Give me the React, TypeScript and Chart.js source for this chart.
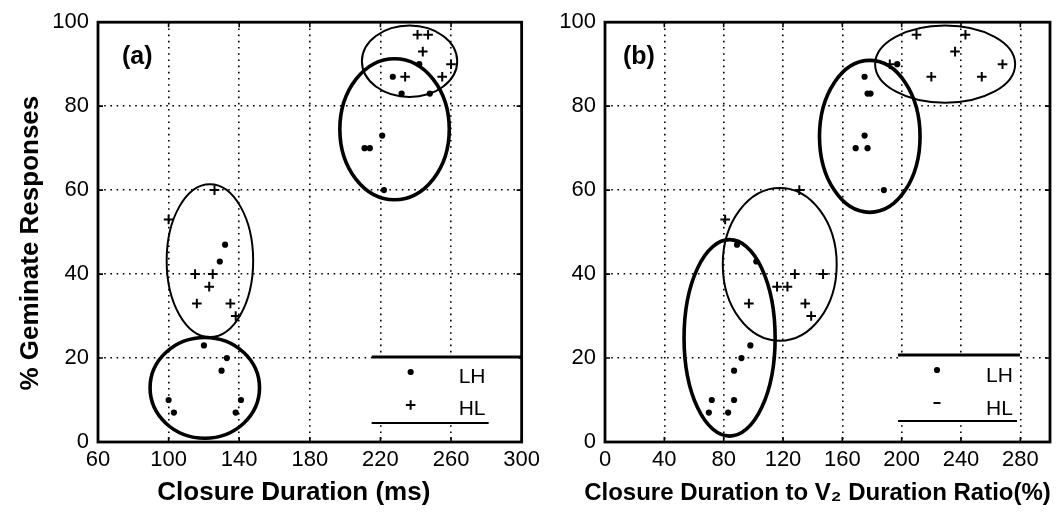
import React, { useEffect, useRef } from 'react';
import { Chart, registerables } from 'chart.js';

Chart.register(...registerables);

// ---------- Panel (a): Closure Duration (ms) ----------
const LH_A_X = [242, 227, 232, 248, 221, 211, 214, 222, 132, 129, 120, 133, 130, 100, 103, 141, 138];
const LH_A_Y = [90, 87, 83, 83, 73, 70, 70, 60, 47, 43, 23, 20, 17, 10, 7, 10, 7];
const HL_A_X = [241, 247, 244, 260, 234, 255, 126, 100, 115, 125, 123, 116, 135, 138];
const HL_A_Y = [97, 97, 93, 90, 87, 87, 60, 53, 40, 40, 37, 33, 33, 30];

// ---------- Panel (b): Closure Duration to V2 Duration Ratio (%) ----------
const LH_B_X = [197, 175, 177, 179, 175, 169, 177, 188, 89, 102, 98, 92, 87, 72, 87, 70, 83];
const LH_B_Y = [90, 87, 83, 83, 73, 70, 70, 60, 47, 43, 23, 20, 17, 10, 10, 7, 7];
const HL_B_X = [210, 243, 236, 268, 192, 220, 254, 131, 81, 128, 147, 116, 123, 97, 135, 139];
const HL_B_Y = [97, 97, 93, 90, 90, 87, 87, 60, 53, 40, 40, 37, 37, 33, 33, 30];

// ---------- Axes ----------
const X_RANGE_A = [60, 300];
const X_RANGE_B = [0, 300];
const Y_RANGE = [0, 100];
const X_TICKS_A = [60, 100, 140, 180, 220, 260, 300];
const X_TICKS_B = [0, 40, 80, 120, 160, 200, 240, 280];
const Y_TICKS = [0, 20, 40, 60, 80, 100];

// ---------- Cluster ellipses (data units) ----------
const ELL_A_CX = [236.5, 228, 123.4, 120.5];
const ELL_A_CY = [90.7, 74.5, 43.2, 12.9];
const ELL_A_RX = [27, 31, 24.5, 31];
const ELL_A_RY = [8.5, 16.8, 18.2, 12];
const ELL_A_KIND = ['thin', 'thick', 'thin', 'thick'];

const ELL_B_CX = [229.3, 178.5, 117.8, 84];
const ELL_B_CY = [90, 72.8, 42.3, 24.8];
const ELL_B_RX = [47.2, 33.9, 38.4, 30.7];
const ELL_B_RY = [9.2, 18.1, 18.2, 23.4];
const ELL_B_KIND = ['thin', 'thick', 'thin', 'thick'];

const SERIES = ['LH', 'HL'];
const Y_TITLE = '% Geminate Responses';
const X_TITLE_A = 'Closure Duration (ms)';
const X_TITLE_B = 'Closure Duration to V\u2082 Duration Ratio(%)';

const FONT = '"Liberation Sans", Arial, Helvetica, sans-serif';

type PanelCfg = {
  tag: string;
  lhX: number[]; lhY: number[]; hlX: number[]; hlY: number[];
  xRange: number[]; xTicks: number[];
  ell: { cx: number[]; cy: number[]; rx: number[]; ry: number[]; kind: string[] };
  yAxisWidth: number; padRight: number;
  xTitle: string; xTitleSize: number; xTitleShift: number;
  yTitle?: string;
  labelDx: number;
  legend: any;
};

function decor(cfg: PanelCfg) {
  return {
    id: 'decor_' + cfg.tag,
    beforeDatasetsDraw(chart: any) {
      const { ctx, scales, chartArea: a } = chart;
      const x = scales.x, y = scales.y;
      ctx.save();
      ctx.strokeStyle = '#000';
      // inward major ticks on all four sides
      ctx.lineWidth = 1.6;
      ctx.beginPath();
      cfg.xTicks.forEach((v) => {
        const px = x.getPixelForValue(v);
        ctx.moveTo(px, a.bottom); ctx.lineTo(px, a.bottom - 5);
        ctx.moveTo(px, a.top); ctx.lineTo(px, a.top + 5);
      });
      Y_TICKS.forEach((v) => {
        const py = y.getPixelForValue(v);
        ctx.moveTo(a.left, py); ctx.lineTo(a.left + 5, py);
        ctx.moveTo(a.right, py); ctx.lineTo(a.right - 5, py);
      });
      ctx.stroke();
      // ellipses
      cfg.ell.cx.forEach((cx, i) => {
        const cy = cfg.ell.cy[i];
        const px = x.getPixelForValue(cx);
        const py = y.getPixelForValue(cy);
        const rx = Math.abs(x.getPixelForValue(cx + cfg.ell.rx[i]) - px);
        const ry = Math.abs(y.getPixelForValue(cy + cfg.ell.ry[i]) - py);
        ctx.lineWidth = cfg.ell.kind[i] === 'thick' ? 3.6 : 2;
        ctx.beginPath();
        ctx.ellipse(px, py, rx, ry, 0, 0, Math.PI * 2);
        ctx.stroke();
      });
      ctx.restore();
    },
    afterDraw(chart: any) {
      const { ctx, chartArea: a } = chart;
      const L = cfg.legend;
      ctx.save();
      // legend box
      ctx.fillStyle = '#fff';
      ctx.fillRect(a.right - L.boxLeft, a.bottom - L.topY + 1, L.boxLeft - L.fillRight, L.topY - L.bottomY - 2);
      ctx.strokeStyle = '#000';
      ctx.lineWidth = 2.8;
      ctx.beginPath();
      ctx.moveTo(a.right - L.boxLeft, a.bottom - L.topY);
      ctx.lineTo(a.right - L.topLineRight, a.bottom - L.topY);
      ctx.stroke();
      ctx.lineWidth = 2;
      ctx.beginPath();
      ctx.moveTo(a.right - L.boxLeft, a.bottom - L.bottomY);
      ctx.lineTo(a.right - L.bottomLineRight, a.bottom - L.bottomY);
      ctx.stroke();
      // markers
      const mx = a.right - L.markerX;
      ctx.fillStyle = '#000';
      ctx.beginPath();
      ctx.arc(mx, a.bottom - L.lhY, 3.1, 0, Math.PI * 2);
      ctx.fill();
      ctx.lineWidth = 2;
      ctx.beginPath();
      if (L.hlMarker === 'cross') {
        ctx.moveTo(mx - 4.8, a.bottom - L.hlY);
        ctx.lineTo(mx + 4.8, a.bottom - L.hlY);
        ctx.moveTo(mx, a.bottom - L.hlY - 4.8);
        ctx.lineTo(mx, a.bottom - L.hlY + 4.8);
      } else {
        ctx.moveTo(mx - 3.5, a.bottom - L.hlY);
        ctx.lineTo(mx + 3.5, a.bottom - L.hlY);
      }
      ctx.stroke();
      // legend text
      ctx.font = `21px ${FONT}`;
      ctx.textAlign = 'left';
      ctx.textBaseline = 'alphabetic';
      ctx.fillText(SERIES[0], a.right - L.textX, a.bottom - L.lhBase);
      ctx.fillText(SERIES[1], a.right - L.textX, a.bottom - L.hlBase);
      // frame
      ctx.lineWidth = 2.8;
      ctx.strokeRect(a.left, a.top, a.right - a.left, a.bottom - a.top);
      // panel label
      ctx.font = `bold 25px ${FONT}`;
      ctx.fillText(cfg.tag, a.left + cfg.labelDx, a.top + 42);
      // axis titles
      ctx.textAlign = 'center';
      ctx.font = `bold ${cfg.xTitleSize}px ${FONT}`;
      ctx.fillText(cfg.xTitle, (a.left + a.right) / 2 + cfg.xTitleShift, a.bottom + 58);
      if (cfg.yTitle) {
        ctx.save();
        ctx.translate(38, (a.top + a.bottom) / 2 + 11);
        ctx.rotate(-Math.PI / 2);
        ctx.font = `bold 26px ${FONT}`;
        ctx.fillText(cfg.yTitle, 0, 0);
        ctx.restore();
      }
      ctx.restore();
    },
  };
}

function makeConfig(cfg: PanelCfg): any {
  const tickFont = { family: FONT, size: 22 };
  return {
    type: 'scatter',
    data: {
      datasets: [
        {
          label: SERIES[0],
          data: cfg.lhX.map((v, i) => ({ x: v, y: cfg.lhY[i] })),
          pointStyle: 'circle',
          pointRadius: 3.1,
          backgroundColor: '#000',
          borderColor: '#000',
          borderWidth: 0,
        },
        {
          label: SERIES[1],
          data: cfg.hlX.map((v, i) => ({ x: v, y: cfg.hlY[i] })),
          pointStyle: 'cross',
          pointRadius: 4.8,
          backgroundColor: '#000',
          borderColor: '#000',
          borderWidth: 2,
        },
      ],
    },
    options: {
      responsive: false,
      animation: false,
      events: [],
      layout: { padding: { left: 0, top: 20, right: cfg.padRight, bottom: 0 } },
      plugins: { legend: { display: false }, tooltip: { enabled: false } },
      scales: {
        x: {
          type: 'linear',
          min: cfg.xRange[0],
          max: cfg.xRange[1],
          afterBuildTicks: (s: any) => { s.ticks = cfg.xTicks.map((value) => ({ value })); },
          afterFit: (s: any) => { s.height = 77; },
          grid: { color: '#000', lineWidth: 1.6, drawTicks: false },
          border: { display: false, dash: [1.6, 4.6] },
          ticks: { color: '#000', font: tickFont, padding: 5, maxRotation: 0, autoSkip: false },
        },
        y: {
          type: 'linear',
          min: Y_RANGE[0],
          max: Y_RANGE[1],
          afterBuildTicks: (s: any) => { s.ticks = Y_TICKS.map((value) => ({ value })); },
          afterFit: (s: any) => { s.width = cfg.yAxisWidth; },
          grid: { color: '#000', lineWidth: 1.6, drawTicks: false },
          border: { display: false, dash: [1.6, 4.6] },
          ticks: { color: '#000', font: tickFont, padding: 9, autoSkip: false },
        },
      },
    },
    plugins: [decor(cfg)],
  };
}

const PANEL_A: PanelCfg = {
  tag: '(a)',
  lhX: LH_A_X, lhY: LH_A_Y, hlX: HL_A_X, hlY: HL_A_Y,
  xRange: X_RANGE_A, xTicks: X_TICKS_A,
  ell: { cx: ELL_A_CX, cy: ELL_A_CY, rx: ELL_A_RX, ry: ELL_A_RY, kind: ELL_A_KIND },
  yAxisWidth: 98, padRight: 20,
  xTitle: X_TITLE_A, xTitleSize: 26, xTitleShift: -16,
  yTitle: Y_TITLE,
  labelDx: 24,
  legend: { boxLeft: 150, fillRight: 3, topLineRight: 0, bottomLineRight: 33, topY: 85, bottomY: 19, markerX: 111, lhY: 70, hlY: 37, textX: 63, lhBase: 59, hlBase: 27, hlMarker: 'cross' },
};

const PANEL_B: PanelCfg = {
  tag: '(b)',
  lhX: LH_B_X, lhY: LH_B_Y, hlX: HL_B_X, hlY: HL_B_Y,
  xRange: X_RANGE_B, xTicks: X_TICKS_B,
  ell: { cx: ELL_B_CX, cy: ELL_B_CY, rx: ELL_B_RX, ry: ELL_B_RY, kind: ELL_B_KIND },
  yAxisWidth: 60, padRight: 14,
  xTitle: X_TITLE_B, xTitleSize: 24, xTitleShift: -10,
  labelDx: 18,
  legend: { boxLeft: 152, fillRight: 33, topLineRight: 30, bottomLineRight: 33, topY: 87, bottomY: 21, markerX: 113, lhY: 72, hlY: 39, textX: 64, lhBase: 60, hlBase: 27, hlMarker: 'dash' },
};

function Panel({ cfg, left, width }: { cfg: PanelCfg; left: number; width: number }) {
  const ref = useRef<HTMLCanvasElement | null>(null);
  useEffect(() => {
    if (!ref.current) return;
    const chart = new Chart(ref.current, makeConfig(cfg));
    return () => chart.destroy();
  }, [cfg]);
  return (
    <canvas
      ref={ref}
      width={width}
      height={519}
      style={{ position: 'absolute', left, top: 0, width, height: 519, display: 'block' }}
    />
  );
}

export default function App() {
  return (
    <div style={{ position: 'absolute', left: 0, top: 0, width: 1064, height: 519, background: '#fff', overflow: 'hidden' }}>
      <Panel cfg={PANEL_A} left={0} width={545} />
      <Panel cfg={PANEL_B} left={545} width={519} />
    </div>
  );
}
